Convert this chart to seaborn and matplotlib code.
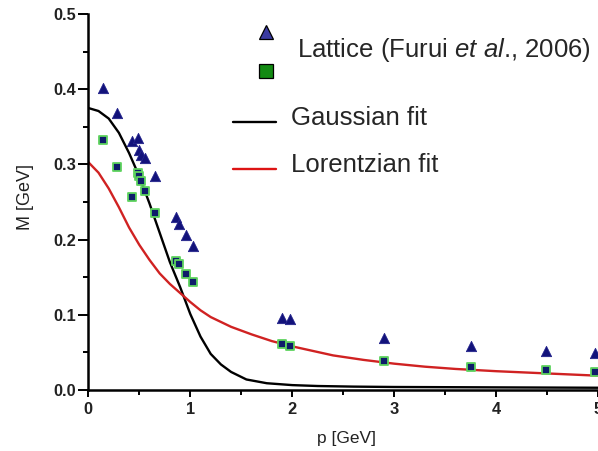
import numpy as np
import pandas as pd
import matplotlib
matplotlib.use("Agg")
import matplotlib.pyplot as plt
from matplotlib.lines import Line2D
from matplotlib.legend_handler import HandlerBase
from matplotlib.ticker import MultipleLocator, FormatStrFormatter
import seaborn as sns

# Lattice data: momentum p [GeV] and dynamical mass M [GeV] for the two lattice sets
lat_p = [0.14, 0.28, 0.43, 0.49, 0.50, 0.52, 0.56, 0.65, 0.86, 0.89, 0.955, 1.023,
         1.90, 1.98, 2.90, 3.75, 4.49, 4.965]
tri_M = [0.402, 0.369, 0.331, 0.335, 0.319, 0.313, 0.308, 0.285, 0.230, 0.221, 0.206, 0.192,
         0.096, 0.094, 0.0687, 0.0585, 0.0519, 0.0488]
sq_M = [0.332, 0.296, 0.256, 0.288, 0.284, 0.278, 0.265, 0.235, 0.172, 0.167, 0.154, 0.143,
        0.061, 0.058, 0.0386, 0.031, 0.0266, 0.0243]

# Gaussian fit curve
gauss_p = [0.0, 0.1, 0.2, 0.3, 0.4, 0.5, 0.6, 0.7, 0.8, 0.9, 1.0, 1.1, 1.2, 1.3, 1.4,
           1.55, 1.75, 2.0, 2.25, 2.6, 3.0, 4.0, 5.0]
gauss_M = [0.375, 0.371, 0.361, 0.342, 0.315, 0.284, 0.248, 0.209, 0.170, 0.137, 0.101,
           0.071, 0.048, 0.034, 0.024, 0.014, 0.009, 0.0065, 0.0053, 0.0045, 0.004, 0.0035, 0.003]

# Lorentzian fit curve
lor_p = [0.0, 0.1, 0.2, 0.3, 0.4, 0.5, 0.6, 0.7, 0.8, 0.9, 1.0, 1.1, 1.2, 1.4, 1.6, 1.8,
         2.0, 2.2, 2.4, 2.7, 3.0, 3.3, 3.6, 4.0, 4.5, 5.0]
lor_M = [0.303, 0.289, 0.268, 0.243, 0.216, 0.193, 0.173, 0.155, 0.141, 0.129, 0.117, 0.106,
         0.097, 0.084, 0.074, 0.065, 0.058, 0.052, 0.046, 0.040, 0.035, 0.031, 0.028, 0.025,
         0.022, 0.019]

x_ticks = [0, 1, 2, 3, 4, 5]
y_ticks = [0.0, 0.1, 0.2, 0.3, 0.4, 0.5]

lattice_label = r"Lattice (Furui $\mathit{et\ al}$., 2006)"
fit_labels = ["Gaussian fit", "Lorentzian fit"]

sns.set_theme(style="ticks")
plt.rcParams["font.family"] = ["Liberation Sans", "DejaVu Sans"]
plt.rcParams["mathtext.fontset"] = "custom"
plt.rcParams["mathtext.rm"] = "Liberation Sans"
plt.rcParams["mathtext.it"] = "Liberation Sans:italic"

W, H = 598, 451
fig = plt.figure(figsize=(W / 100, H / 100), dpi=100)
ax = fig.add_axes([88.3 / W, 1 - 390 / H, 510 / W, 376 / H])

gauss_df = pd.DataFrame({"p": gauss_p, "M": gauss_M})
lor_df = pd.DataFrame({"p": lor_p, "M": lor_M})
sns.lineplot(data=gauss_df, x="p", y="M", color="black", lw=1.7, ax=ax,
             sort=False, estimator=None, zorder=2)
sns.lineplot(data=lor_df, x="p", y="M", color="#d02222", lw=1.7, ax=ax,
             sort=False, estimator=None, zorder=2)
gauss_line, lor_line = ax.lines[0], ax.lines[1]

navy = "#12127a"
sns.scatterplot(x=lat_p, y=tri_M, marker="^", s=55, color=navy, edgecolor="#23238c",
                linewidth=0.6, ax=ax, zorder=3)
sns.scatterplot(x=lat_p, y=sq_M, marker="s", s=38, color="#0e1c6a", edgecolor="#5ed35e",
                linewidth=1.3, ax=ax, zorder=4)

ax.set_xlim(0, 5)
ax.set_ylim(0, 0.5)
ax.set_xticks(x_ticks)
ax.set_yticks(y_ticks)
ax.yaxis.set_major_formatter(FormatStrFormatter("%.1f"))
ax.xaxis.set_minor_locator(MultipleLocator(0.5))
ax.yaxis.set_minor_locator(MultipleLocator(0.05))
sns.despine(ax=ax)
for side in ("left", "bottom"):
    ax.spines[side].set_linewidth(1.8)
    ax.spines[side].set_color("black")
ax.tick_params(axis="both", which="both", direction="out", color="black", width=1.4,
               labelsize=11.8, labelcolor="#222222")
ax.tick_params(axis="y", which="major", length=7, pad=1.5)
ax.tick_params(axis="x", which="major", length=5, pad=4)
ax.tick_params(axis="both", which="minor", length=3.5)
for lab in ax.get_xticklabels() + ax.get_yticklabels():
    lab.set_fontweight("bold")

ax.set_xlabel("p [GeV]", fontsize=12.5, color="#222222")
ax.set_ylabel("M [GeV]", fontsize=13, color="#222222")
ax.xaxis.set_label_coords((346.7 - 88.3) / 510, (390 - 431) / 376)
ax.yaxis.set_label_coords((34 - 88.3) / 510, (390 - 197) / 376)


class StackedMarkers(HandlerBase):
    """Draws the markers of a tuple handle one above the other."""

    def __init__(self, offsets):
        super().__init__()
        self.offsets = offsets

    def create_artists(self, legend, orig_handle, xdescent, ydescent, width, height,
                       fontsize, trans):
        cx = 0.5 * width - xdescent
        cy = 0.5 * height - ydescent
        artists = []
        for h, dy in zip(orig_handle, self.offsets):
            m = Line2D([cx], [cy + dy], linestyle="none", marker=h.get_marker(),
                       markersize=h.get_markersize(),
                       markerfacecolor=h.get_markerfacecolor(),
                       markeredgecolor=h.get_markeredgecolor(),
                       markeredgewidth=h.get_markeredgewidth())
            m.set_transform(trans)
            artists.append(m)
        return artists


class LoweredLine(HandlerBase):
    """Legend line key drawn a little below the middle of the text row."""

    def __init__(self, drop, color_map):
        super().__init__()
        self.drop = drop
        self.color_map = color_map

    def create_artists(self, legend, orig_handle, xdescent, ydescent, width, height,
                       fontsize, trans):
        y = 0.5 * height - ydescent - self.drop
        ln = Line2D([-xdescent, width - xdescent], [y, y],
                    color=self.color_map.get(id(orig_handle), orig_handle.get_color()),
                    lw=orig_handle.get_linewidth())
        ln.set_transform(trans)
        return [ln]


tri_key = Line2D([], [], linestyle="none", marker="^", markersize=10.5,
                 markerfacecolor="#3a3aa0", markeredgecolor="black", markeredgewidth=0.9)
sq_key = Line2D([], [], linestyle="none", marker="s", markersize=9.5,
                markerfacecolor="#128a12", markeredgecolor="black", markeredgewidth=0.9)

leg_fs = 18.5
leg1 = ax.legend(handles=[(tri_key, sq_key)], labels=[lattice_label],
                 handler_map={tuple: StackedMarkers((11.3, -16.4))},
                 loc="upper left", bbox_to_anchor=(253 / W, 1 - 36 / H),
                 bbox_transform=fig.transFigure, frameon=False, borderpad=0,
                 borderaxespad=0, handlelength=1.0, handletextpad=0.7, fontsize=leg_fs)
ax.add_artist(leg1)

line_handler = LoweredLine(4.3, {id(lor_line): "#dd1414"})
ax.legend(handles=[gauss_line, lor_line], labels=fit_labels,
          handler_map={gauss_line: line_handler, lor_line: line_handler},
          loc="upper left", bbox_to_anchor=(233 / W, 1 - 106 / H),
          bbox_transform=fig.transFigure, frameon=False, borderpad=0, borderaxespad=0,
          handlelength=1.68, handletextpad=0.59, labelspacing=0.89, fontsize=leg_fs)

fig.savefig("out.png", dpi=100)
